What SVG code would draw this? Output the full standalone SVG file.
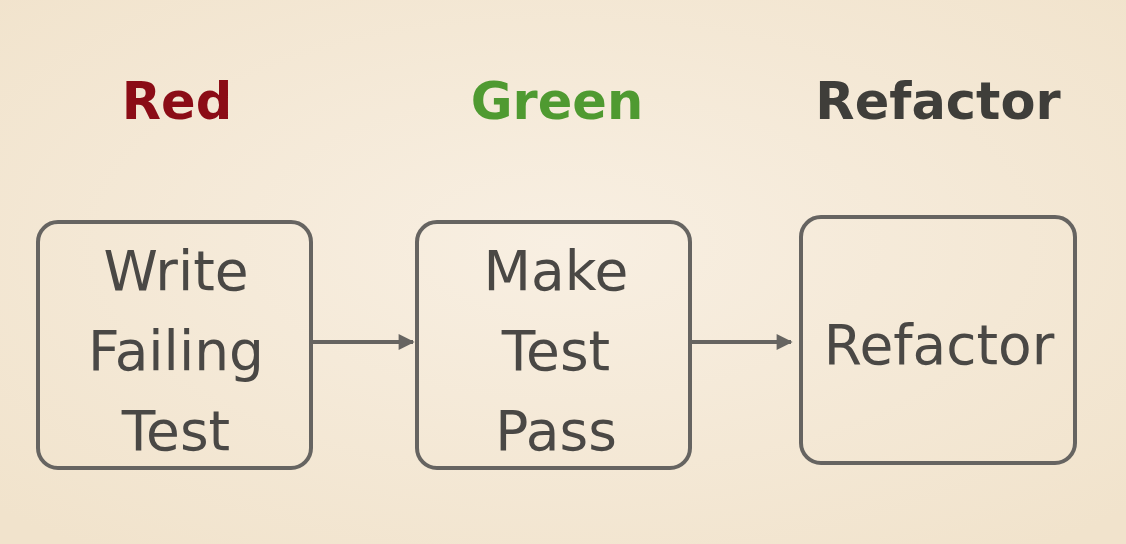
<svg xmlns="http://www.w3.org/2000/svg" width="1126" height="544" viewBox="0 0 1126 544">
<defs>
<radialGradient id="bg" cx="50%" cy="45%" r="70%">
<stop offset="0" stop-color="#f8efe2"/>
<stop offset="1" stop-color="#f1e3cc"/>
</radialGradient>
<marker id="ah" viewBox="0 0 10 10" refX="9" refY="5" markerWidth="4.5" markerHeight="4" markerUnits="strokeWidth" orient="auto">
<path d="M0,0 L10,5 L0,10 z" fill="#666461"/>
</marker>
<style>
.box{fill:none;stroke:#666461;stroke-width:4}
.t{font-family:"DejaVu Sans",sans-serif;font-size:55px;fill:#4a4845;text-anchor:middle}
.h{font-family:"DejaVu Sans",sans-serif;font-weight:bold;font-size:51px;text-anchor:middle}
.c{stroke:#666461;stroke-width:4;fill:none}
</style>
</defs>
<rect width="1126" height="544" fill="url(#bg)"/>
<g id="heading-red"><text class="h" x="177" y="119" fill="#8b0c16">Red</text></g>
<g id="heading-green"><text class="h" x="557" y="119" fill="#4f9a31">Green</text></g>
<g id="heading-refactor"><text class="h" x="938" y="119" fill="#3f3e3a">Refactor</text></g>
<g id="node-write">
<rect class="box" x="38" y="222" width="273" height="246" rx="20"/>
<text class="t" x="176" y="290">Write</text>
<text class="t" x="176" y="370">Failing</text>
<text class="t" x="176" y="450">Test</text>
</g>
<g id="node-make">
<rect class="box" x="417" y="222" width="273" height="246" rx="20"/>
<text class="t" x="556" y="290">Make</text>
<text class="t" x="556" y="370">Test</text>
<text class="t" x="556" y="450">Pass</text>
</g>
<g id="node-refactor">
<rect class="box" x="801" y="217" width="274" height="246" rx="20"/>
<text class="t" x="939" y="364">Refactor</text>
</g>
<g id="connectors">
<line class="c" x1="313" y1="342" x2="413" y2="342" marker-end="url(#ah)"/>
<line class="c" x1="692" y1="342" x2="791" y2="342" marker-end="url(#ah)"/>
</g>
</svg>
